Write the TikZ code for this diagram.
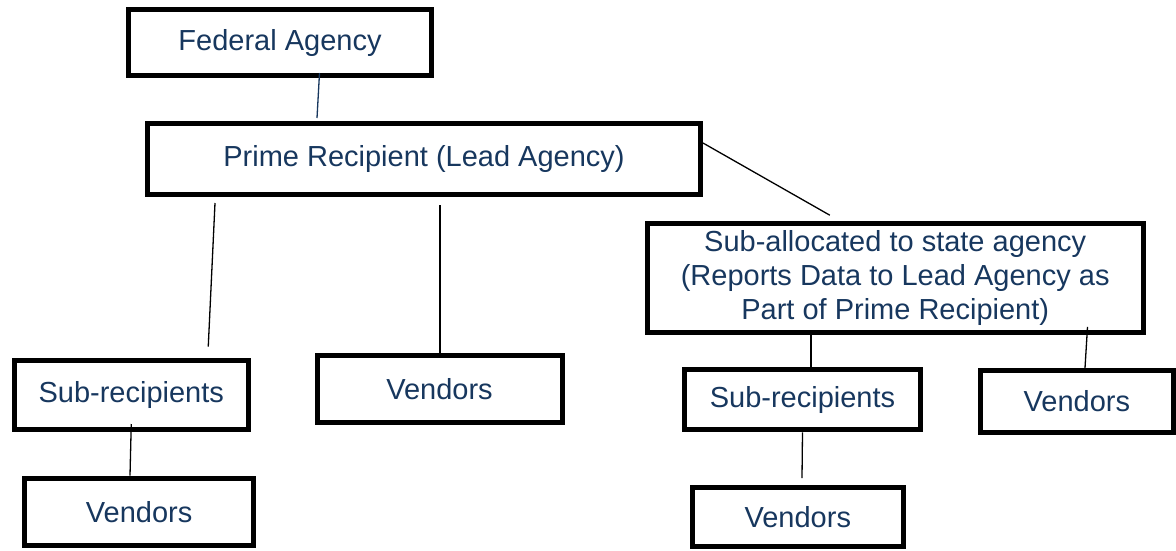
\documentclass[tikz,border=0pt]{standalone}
\usepackage{fontspec}
\setmainfont{Liberation Sans}
\definecolor{fedblue}{HTML}{17375E}
\tikzset{
  orgbox/.style={draw, line width=5pt, text=fedblue, inner sep=0pt, align=center},
  link/.style={line width=1.3pt}
}

\begin{document}
\begin{tikzpicture}[x=1pt, y=-1pt, font=\fontsize{29}{34}\selectfont]

\useasboundingbox (0,0) rectangle (1176,550);

% boxes (pixel coordinates, y grows downwards)
\node[orgbox, minimum width=303.5, minimum height=66] (fed) at (280,42.5) {Federal Agency};
\node[orgbox, minimum width=553, minimum height=71] (prime) at (424,159) {Prime Recipient (Lead Agency)};
\node[orgbox, minimum width=496, minimum height=109] (state) at (895.2,277.9)
  {Sub-allocated to state agency\\(Reports Data to Lead Agency as\\Part of Prime Recipient)};

% left branch
\node[orgbox, minimum width=234.5, minimum height=69] (subL) at (131.25,395) {Sub-recipients};
\node[orgbox, minimum width=229.4, minimum height=67.3] (venBL) at (139.2,511.8) {Vendors};
\node[orgbox, minimum width=245, minimum height=67] (venM) at (439.5,389) {Vendors};

% right branch
\node[orgbox, minimum width=236.7, minimum height=60.6] (subR) at (802.5,399.5) {Sub-recipients};
\node[orgbox, minimum width=210.6, minimum height=59] (venBR) at (797.8,517) {Vendors};
\node[orgbox, minimum width=193, minimum height=62] (venR) at (1076.9,401.5) {Vendors};

% connectors (hand drawn, so they miss the boxes a little)
\draw[link, fedblue] ([xshift=39.5pt,yshift=5pt]fed.south) -- ([xshift=-107pt,yshift=3pt]prime.north);
\draw[link] ([yshift=16pt]prime.east) -- ([xshift=-65.4pt,yshift=5.7pt]state.north);
\draw[link] ([xshift=-209pt,yshift=-6pt]prime.south) -- ([xshift=77pt,yshift=11.3pt]subL.north);
\draw[link] ([xshift=16pt,yshift=-8pt]prime.south) -- ([xshift=0.5pt]venM.north);
\draw[link] ([yshift=8pt]subL.south) -- ([xshift=-9.2pt]venBL.north);
\draw[link] ([xshift=-84.2pt,yshift=2pt]state.south) -- ([xshift=8.5pt]subR.north);
\draw[link] ([xshift=192.3pt,yshift=8pt]state.south) -- ([xshift=8.1pt]venR.north);
\draw[link] (subR.south) -- ([xshift=4.2pt,yshift=7pt]venBR.north);

\end{tikzpicture}
\end{document}
